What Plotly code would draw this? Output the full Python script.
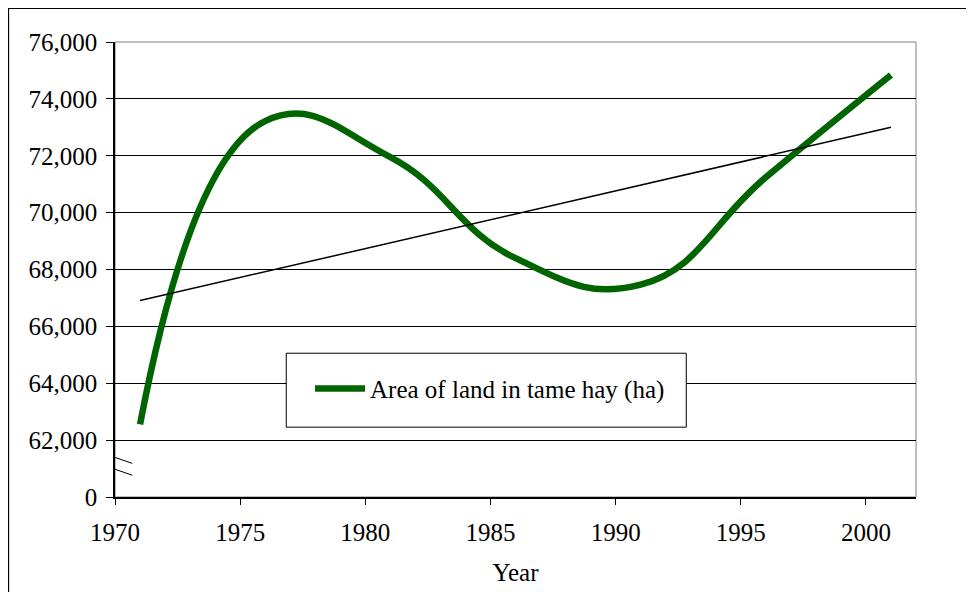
import numpy as np
import plotly.graph_objects as go

# census years and area of land in tame hay (ha)
years = [1971, 1976, 1981, 1986, 1991, 1996, 2001]
hay_area = [62550, 73220, 71950, 68400, 67470, 71240, 74840]

y_ticks = [60000, 62000, 64000, 66000, 68000, 70000, 72000, 74000, 76000]
y_labels = ["0", "62,000", "64,000", "66,000", "68,000", "70,000", "72,000", "74,000", "76,000"]
x_ticks = [1970, 1975, 1980, 1985, 1990, 1995, 2000]

GREEN = "#006400"
FONT = "Liberation Serif, Times New Roman, serif"

# linear trend line fitted to the series
slope, icept = np.polyfit(years, hay_area, 1)
trend = [slope * yr + icept for yr in [years[0], years[-1]]]

fig = go.Figure()
fig.add_trace(go.Scatter(x=years, y=hay_area, mode="lines",
    line=dict(color=GREEN, width=6.5, shape="spline", smoothing=1.3),
    name="Area of land in tame hay (ha)"))
fig.add_trace(go.Scatter(x=[years[0], years[-1]], y=trend, mode="lines",
    line=dict(color="black", width=1.5), showlegend=False, hoverinfo="skip"))

# plot area frame, outer chart border, legend box, axis break marks
fig.add_shape(type="rect", xref="paper", yref="paper", x0=0, x1=1, y0=0, y1=1,
    line=dict(color="#808080", width=1), layer="below")
fig.add_shape(type="rect", xref="paper", yref="paper", x0=-0.1329, x1=1.09, y0=-0.25, y1=1.0736,
    line=dict(color="black", width=1.2), layer="below")
fig.add_shape(type="rect", xref="paper", yref="paper", x0=0.2138, x1=0.7132, y0=0.1535, y1=0.316,
    line=dict(color="black", width=1), fillcolor="white", layer="above")
for y0 in [0.087, 0.061]:
    fig.add_shape(type="line", xref="paper", yref="paper", x0=0, x1=0.0216, y0=y0, y1=y0 - 0.0132,
        line=dict(color="black", width=1))

# page body has an 8px margin, so the margins are shifted to compensate
fig.update_layout(
    width=974, height=592,
    margin=dict(l=107, r=66, t=34, b=103),
    paper_bgcolor="white", plot_bgcolor="white",
    font=dict(family=FONT, size=25, color="black"),
    showlegend=True,
    legend=dict(x=0.2435, y=0.238, xanchor="left", yanchor="middle",
        bgcolor="rgba(0,0,0,0)", borderwidth=0, itemwidth=50,
        font=dict(family=FONT, size=25, color="black")),
)
fig.update_xaxes(range=[1970, 2002.0], tickvals=x_ticks, ticks="outside", ticklen=6,
    tickcolor="black", showline=True, linecolor="black", linewidth=1.5,
    showgrid=False, zeroline=False, ticklabelstandoff=6,
    title=dict(text="Year", font=dict(family=FONT, size=25), standoff=19))
fig.update_yaxes(range=[60000, 76000], tickvals=y_ticks, ticktext=y_labels, ticks="outside",
    ticklen=7, tickcolor="black", showline=True, linecolor="black", linewidth=1.5,
    showgrid=True, gridcolor="black", gridwidth=1, zeroline=False, ticklabelstandoff=4)

fig.write_html("out.html")
